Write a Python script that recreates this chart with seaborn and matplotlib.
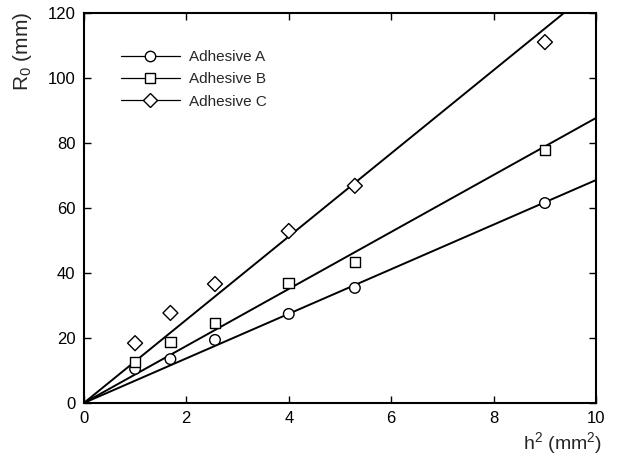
import matplotlib
matplotlib.use("Agg")
import matplotlib.pyplot as plt
import seaborn as sns
import numpy as np
import pandas as pd
from matplotlib.lines import Line2D

# data
h2 = [1.0, 1.69, 2.56, 4.0, 5.29, 9.0]
adhesive_a = [10.5, 13.5, 19.4, 27.4, 35.4, 61.5]
adhesive_b = [12.6, 18.8, 24.6, 36.9, 43.4, 77.8]
adhesive_c = [18.4, 27.7, 36.6, 52.9, 66.8, 111.0]
series_names = ["Adhesive A", "Adhesive B", "Adhesive C"]
fit_slopes = [6.86, 8.77, 12.8]  # fitted lines through origin
fit_x = [0.0, 10.0]
markers = ["o", "s", "D"]
x_ticks = [0, 2, 4, 6, 8, 10]
y_ticks = [0, 20, 40, 60, 80, 100, 120]

sns.set_theme(style="ticks")
plt.rcParams['font.family'] = ['Liberation Sans', 'DejaVu Sans']
plt.rcParams['mathtext.fontset'] = 'custom'
plt.rcParams['mathtext.rm'] = 'Liberation Sans'
plt.rcParams['mathtext.it'] = 'Liberation Sans'

fig = plt.figure(figsize=(6.21, 4.59), dpi=100)
ax = fig.add_axes([0.135, 0.122, 0.825, 0.850])

rows = []
for name, vals in zip(series_names, [adhesive_a, adhesive_b, adhesive_c]):
    for x, y in zip(h2, vals):
        rows.append({"h2": x, "R0": y, "series": name})
df = pd.DataFrame(rows)

fit_rows = []
for name, k in zip(series_names, fit_slopes):
    for x in fit_x:
        fit_rows.append({"h2": x, "R0": k * x, "series": name})
fdf = pd.DataFrame(fit_rows)

sns.lineplot(data=fdf, x="h2", y="R0", hue="series",
             palette=["black"] * 3, linewidth=1.4, legend=False, ax=ax)
sns.scatterplot(data=df, x="h2", y="R0", style="series", markers=markers,
                s=58, facecolor="white", edgecolor="black", linewidth=1.0,
                legend=False, ax=ax, zorder=3)
ax.set_xlim(0, 10)
ax.set_ylim(0, 120)
ax.set_xticks(x_ticks)
ax.set_yticks(y_ticks)
ax.tick_params(direction="in", top=True, right=True, length=5, width=1,
               labelsize=12, colors="black", pad=6)
for s in ax.spines.values():
    s.set_linewidth(1.5)
    s.set_color("black")

ax.set_xlabel("h$^2$ (mm$^2$)", fontsize=14)
ax.set_ylabel("R$_0$ (mm)", fontsize=15)
ax.xaxis.set_label_coords(0.935, -0.07)
ax.yaxis.set_label_coords(-0.098, 0.9)

handles = [Line2D([0], [0], color="black", lw=0.9, marker=m, markersize=7.5 if m != "D" else 7,
                  markerfacecolor="white", markeredgecolor="black") for m in markers]
ax.legend(handles, series_names, loc="upper left", bbox_to_anchor=(0.045, 0.94),
          frameon=False, fontsize=11, handlelength=3.9, handletextpad=0.6,
          labelspacing=0.55)

fig.savefig("out.png", dpi=100)
